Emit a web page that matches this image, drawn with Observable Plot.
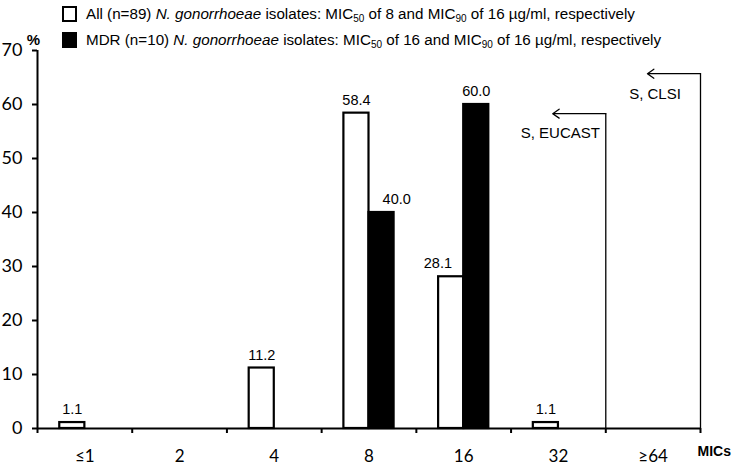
<!DOCTYPE html>
<html>
<head>
<meta charset="utf-8">
<script src="https://cdn.jsdelivr.net/npm/d3@7"></script>
<script src="https://cdn.jsdelivr.net/npm/@observablehq/plot@0.6"></script>
<style>
  html, body { margin: 0; padding: 0; background: #fff; }
  #wrap { position: relative; width: 742px; height: 465px; }
  #legend { position: absolute; left: 0; top: 0; font-family: "Liberation Sans", Arial, sans-serif; font-size: 15.2px; color: #000; }
  .row { position: absolute; left: 62px; white-space: nowrap; display: flex; align-items: center; }
  .sw { width: 11px; height: 12px; border: 2px solid #000; margin-right: 9px; box-sizing: content-box; }
  sub { font-size: 10px; vertical-align: -3px; line-height: 0; }
</style>
</head>
<body>
<div id="wrap">
  <div id="chart"></div>
  <div id="legend">
    <div class="row" style="top:5px"><div class="sw" style="background:#fff"></div><span>All (n=89) <i>N. gonorrhoeae</i> isolates: MIC<sub>50</sub> of 8 and MIC<sub>90</sub> of 16 µg/ml, respectively</span></div>
    <div class="row" style="top:31px"><div class="sw" style="background:#000"></div><span>MDR (n=10) <i>N. gonorrhoeae</i> isolates: MIC<sub>50</sub> of 16 and MIC<sub>90</sub> of 16 µg/ml, respectively</span></div>
  </div>
</div>
<script>
// ---- data ----
const cats = ["≤1", "2", "4", "8", "16", "32", "≥64"];
const allPct = [1.1, 0, 11.2, 58.4, 28.1, 1.1, 0];
const mdrPct = [0, 0, 0, 40.0, 60.0, 0, 0];
const yTicks = [0, 10, 20, 30, 40, 50, 60, 70];
const bpLabels = ["S, EUCAST", "S, CLSI"];
const bpAfterCat = ["32", "≥64"];   // breakpoint drawn at the right edge of this MIC class
const bpTop = [58.3, 65.7];

// ---- build tables ----
const BW = 0.265; // bar width in category units (style)
const rows = cats.flatMap((c, i) => [
  {cat: c, i, series: "All", v: allPct[i], other: mdrPct[i]},
  {cat: c, i, series: "MDR", v: mdrPct[i], other: allPct[i]}
]).filter(d => d.v > 0);
const catRows = cats.map((c, i) => ({cat: c, i}));
const edges = d3.range(cats.length + 1);
const bps = bpLabels.map((l, k) => ({label: l, x: cats.indexOf(bpAfterCat[k]) + 1, top: bpTop[k]}));

const left = d => d.series === "All" ? d.i + 0.5 - BW : d.i + 0.5;
const right = d => d.series === "All" ? d.i + 0.5 : d.i + 0.5 + BW;
// a label is nudged away from a taller neighbouring bar, as in the original
const nudge = d => d.other > d.v ? (d.series === "All" ? -0.14 : 0.16) : 0;

const FONT = "Lato, 'Open Sans', sans-serif";
const ARIAL = "'Liberation Sans', Arial, sans-serif";

const chart = Plot.plot({
  width: 742,
  height: 465,
  marginTop: 50,
  marginBottom: 37,
  marginLeft: 37,
  marginRight: 42,
  style: {fontFamily: FONT, background: "#fff", overflow: "visible"},
  x: {domain: [0, cats.length], axis: null},
  y: {domain: [0, 70], axis: null},
  marks: [
    // y axis
    Plot.axisY({ticks: yTicks, label: null, tickSize: 5, tickPadding: 10, strokeWidth: 2, fontSize: 18, tickFormat: d => d, fontFamily: FONT}),
    Plot.ruleX([0], {stroke: "#000", strokeWidth: 2}),
    // x axis line and class boundary ticks
    Plot.ruleY([0], {stroke: "#000", strokeWidth: 2}),
    Plot.axisX({ticks: edges, label: null, tickSize: 5, tickFormat: () => "", strokeWidth: 2}),
    Plot.text(catRows, {x: d => d.i + 0.5, y: 0, text: "cat", dy: 28, fontSize: 17, fontFamily: FONT}),
    // bars
    Plot.rectY(rows, {x1: left, x2: right, y1: 0, y2: "v",
      fill: d => d.series === "All" ? "#fff" : "#000", stroke: "#000", strokeWidth: 2.2}),
    // value labels
    Plot.text(rows, {x: d => (left(d) + right(d)) / 2 + nudge(d), y: "v", text: d => d.v.toFixed(1),
      dy: -13, fontSize: 14.5, fontFamily: ARIAL}),
    // susceptibility breakpoints
    Plot.ruleX(bps, {x: "x", y1: 0, y2: "top", stroke: "#000", strokeWidth: 1.3}),
    Plot.arrow(bps, {x1: "x", y1: "top", x2: d => d.x - 0.56, y2: "top", stroke: "#000", strokeWidth: 1.3, headLength: 9, headAngle: 70}),
    Plot.text(bps, {x: d => d.x - 0.48, y: "top", text: "label", dy: 20, fontSize: 15, fontFamily: ARIAL}),
    // axis titles
    Plot.text(["%"], {frameAnchor: "top-left", text: d => d, textAnchor: "middle", dx: -4, dy: -16, fontWeight: "bold", fontSize: 15, fontFamily: ARIAL}),
    Plot.text(["MICs"], {frameAnchor: "bottom-right", text: d => d, textAnchor: "start", dx: -3, dy: 27, fontWeight: "bold", fontSize: 14, fontFamily: ARIAL})
  ]
});
document.getElementById("chart").appendChild(chart);
</script>
</body>
</html>
